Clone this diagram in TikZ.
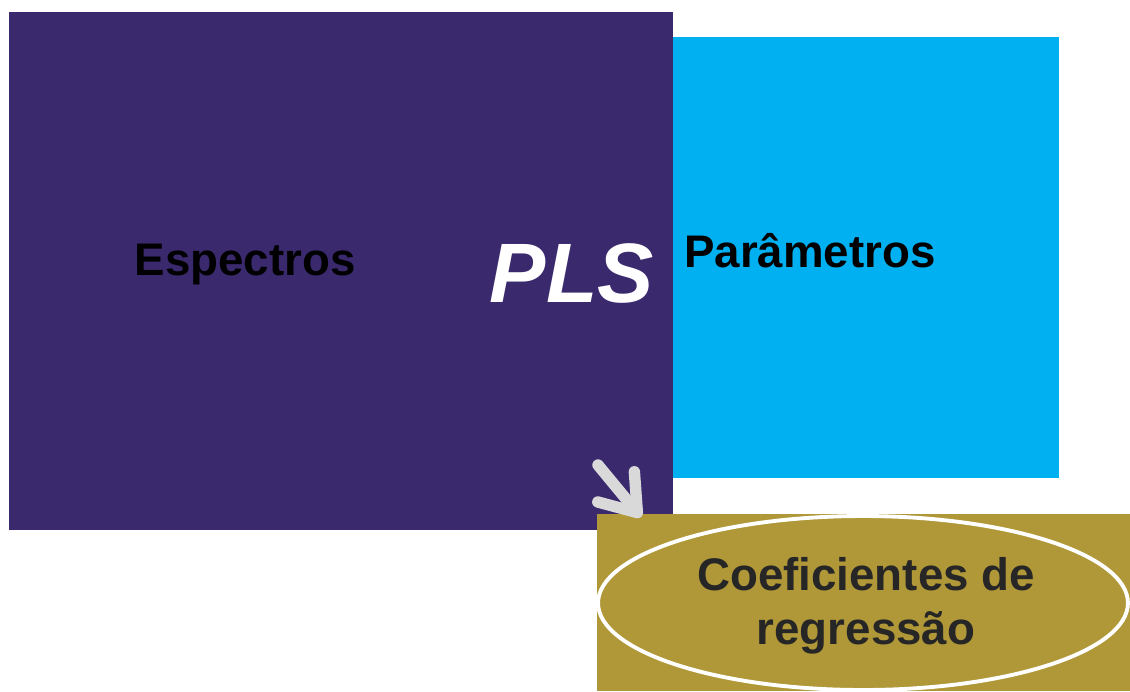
\documentclass[tikz,border=0pt]{standalone}
\usepackage{fontspec}
\setmainfont{Liberation Sans}
\usetikzlibrary{shapes.geometric,arrows.meta}

\definecolor{roxo}{RGB}{59,41,110}
\definecolor{ciano}{RGB}{0,176,240}
\definecolor{oliva}{RGB}{176,152,56}
\definecolor{cinza}{RGB}{217,217,217}
\definecolor{texto}{RGB}{38,38,38}

\begin{document}
\begin{tikzpicture}[x=0.02cm,y=-0.02cm,
        bloco/.style={rectangle,inner sep=0pt,draw=none},
        rot/.style={font=\fontsize{26}{30}\selectfont\bfseries},
        seta/.style={cinza,line width=6.5pt,line cap=round,
            -{Straight Barb[round,length=19pt,width=27pt,line width=6.5pt]}}]
        \useasboundingbox (0,0) rectangle (1130,691);

        \node[bloco,fill=roxo,minimum width=13.28cm,minimum height=10.36cm] (espectros) at (341,271) {};
        \node[bloco,fill=ciano,minimum width=7.72cm,minimum height=8.82cm] (parametros) at (866,257.5) {};
        \node[bloco,fill=oliva,minimum width=10.66cm,minimum height=3.54cm] (coef) at (863.5,602.5) {};

        \node[rot] (tespec) at (245,265) {Espectros};
        \node[rot] (tparam) at (810,251) {Parâmetros};
        \node[white,font=\fontsize{48}{50}\selectfont\bfseries\itshape] (pls) at (572,273) {PLS};

        \node[ellipse,draw=white,line width=2.2pt,minimum width=10.6cm,minimum height=3.48cm] (elipse) at (863,603) {};
        \node[rot,text=texto,align=center] (tcoef) at (866,606) {Coeficientes de\\[1pt]regressão};

        \coordinate (cauda) at (598,465);
        \coordinate (ponta) at (641,517);
        \draw[seta] (cauda) -- (ponta);
    \end{tikzpicture}
\end{document}
